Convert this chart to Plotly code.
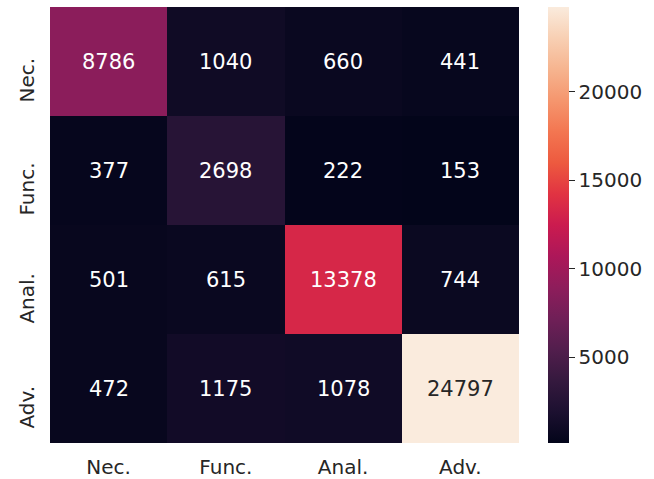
import plotly.graph_objects as go

labels = ["Nec.", "Func.", "Anal.", "Adv."]
values = [
    [8786, 1040, 660, 441],
    [377, 2698, 222, 153],
    [501, 615, 13378, 744],
    [472, 1175, 1078, 24797],
]
cbar_ticks = [5000, 10000, 15000, 20000]

rocket = [
    [0.0, "#03051a"],
    [0.0714, "#1c1030"],
    [0.143, "#35193e"],
    [0.214, "#521e4d"],
    [0.286, "#701f57"],
    [0.357, "#8e1d5b"],
    [0.429, "#ad1759"],
    [0.5, "#cb1b4f"],
    [0.571, "#e13342"],
    [0.643, "#ed5a3f"],
    [0.714, "#f37651"],
    [0.786, "#f5966e"],
    [0.857, "#f6b48f"],
    [0.93, "#f8d0b4"],
    [1.0, "#faebdd"],
]

FONT = "DejaVu Sans"
TXT = "#262626"
zmin = min(min(r) for r in values)
zmax = max(max(r) for r in values)

fig = go.Figure(go.Heatmap(
    z=values, x=labels, y=labels,
    colorscale=rocket, zmin=zmin, zmax=zmax,
    colorbar=dict(
        x=1.0618, xanchor="left", xref="paper", xpad=0, ypad=0,
        y=0, yanchor="bottom", len=1, lenmode="fraction",
        thickness=21, outlinewidth=0,
        tickvals=cbar_ticks, tickformat="d", tickprefix="\u00a0",
        ticks="outside", ticklen=6, tickwidth=1.3, tickcolor=TXT,
        tickfont=dict(family=FONT, size=20, color=TXT),
    ),
    hoverinfo="skip",
))

ann = []
for i, row in enumerate(values):
    for j, v in enumerate(row):
        frac = (v - zmin) / (zmax - zmin)
        ann.append(dict(
            x=labels[j], y=labels[i], xref="x", yref="y", text=str(v),
            showarrow=False,
            font=dict(family=FONT, size=21,
                      color=TXT if frac > 0.6 else "#ffffff"),
        ))
for lab in labels:
    ann.append(dict(
        x=-0.051, xref="paper", y=lab, yref="y", yshift=-19,
        text=lab, textangle=-90, showarrow=False,
        xanchor="center", yanchor="middle",
        font=dict(family=FONT, size=20, color=TXT),
    ))

fig.update_layout(
    width=654, height=479,
    margin=dict(l=50, r=135, t=7, b=36, autoexpand=False),
    paper_bgcolor="white", plot_bgcolor="white",
    annotations=ann,
    xaxis=dict(showgrid=False, zeroline=False, ticks="", ticklabelstandoff=10,
               automargin=False,
               tickfont=dict(family=FONT, size=20, color=TXT)),
    yaxis=dict(showgrid=False, zeroline=False, ticks="", autorange="reversed",
               automargin=False, showticklabels=False),
)

fig.write_html("out.html")
